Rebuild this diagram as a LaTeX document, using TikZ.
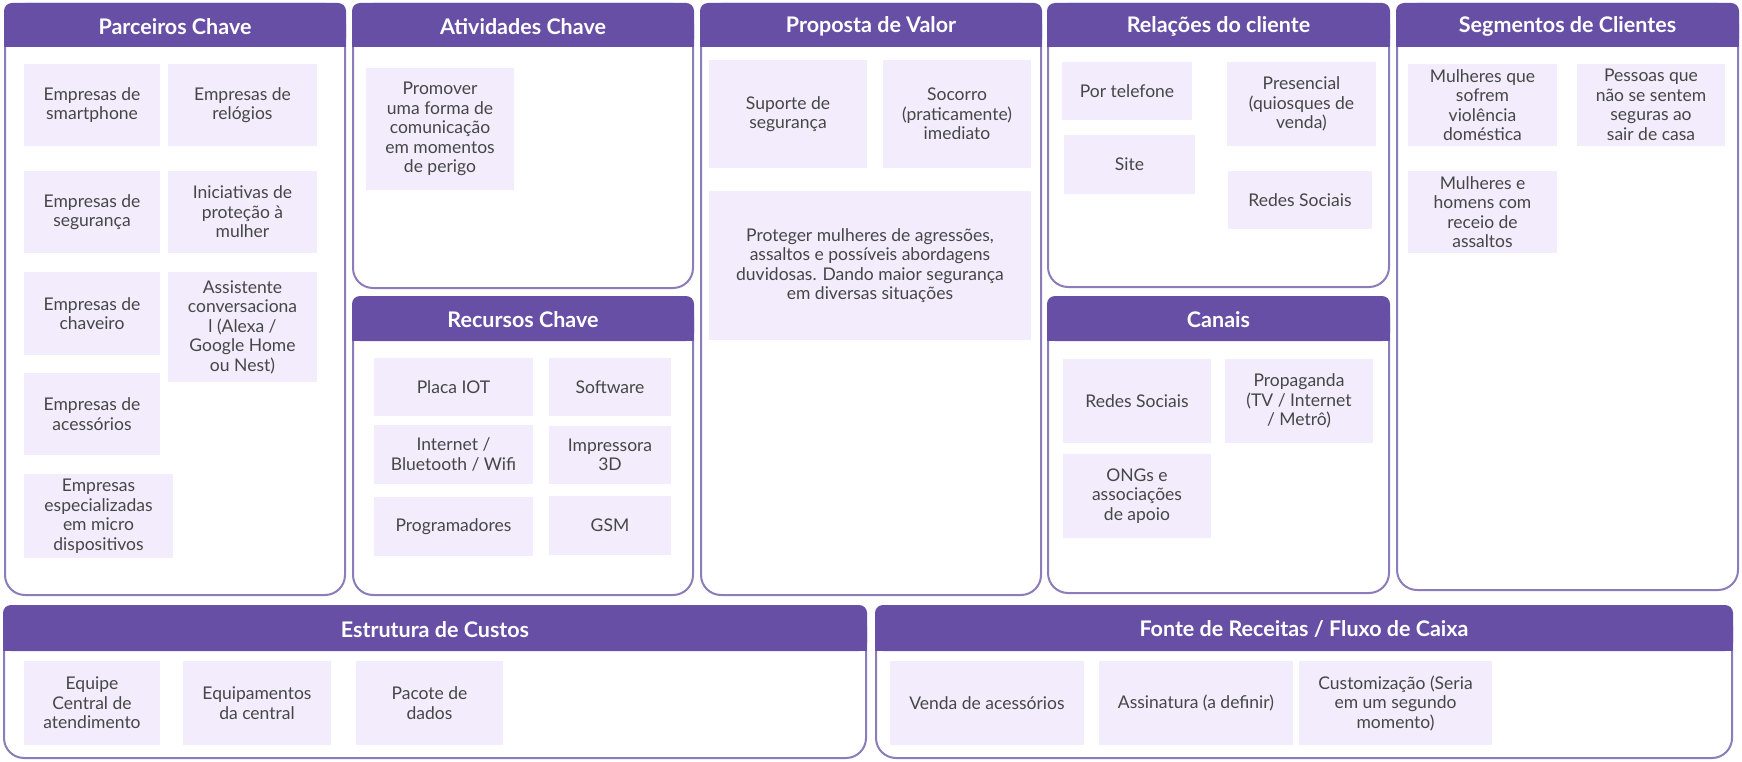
\documentclass[tikz,border=0pt]{standalone}
\usepackage{fontspec}
\setmainfont{Lato}
\definecolor{hdr}{RGB}{103,79,165}
\definecolor{edgec}{RGB}{140,124,186}
\definecolor{cardc}{RGB}{243,236,253}
\definecolor{txt}{RGB}{70,70,70}
\tikzset{
  panelline/.style={draw=edgec, line width=2pt, rounded corners=20pt},
  cardbox/.style={fill=cardc, draw=none, inner sep=0pt, align=center, text=txt,
    font=\fontsize{17.5}{19.5}\selectfont},
  titletext/.style={text=white, inner sep=0pt, font=\fontsize{21.5}{24}\selectfont\bfseries}
}
\newcommand\cpanel[7]{% name, x1, y1, x2, y2, header bottom, title
  \draw[panelline] (#2,#3) rectangle (#4,#5);
  \fill[hdr, rounded corners=8pt] (#2-1,#3-1) rectangle (#4+1,#6);
  \fill[hdr] (#2-1,#6-14) rectangle (#4+1,#6);
  \node[titletext] (#1) at ({(#2+#4)/2},{(#3+#6)/2+1}) {#7};
}
\newcommand\ccard[6]{% name, x1, y1, x2, y2, text
  \node[cardbox, minimum width={(#4-#2)*1pt}, minimum height={(#5-#3)*1pt}]
    (#1) at ({(#2+#4)/2},{(#3+#5)/2}) {#6};
}
\begin{document}
\begin{tikzpicture}[x=1pt, y=-1pt]
\useasboundingbox (0,0) rectangle (1742,762);
\fill[white] (0,0) rectangle (1742,762);

% panels
\cpanel{tParc}{5}{4}{345}{595}{47}{Parceiros Chave}
\cpanel{tAtiv}{353}{4}{693}{288}{47}{Atividades Chave}
\cpanel{tRec}{353}{297}{693}{595}{341}{Recursos Chave}
\cpanel{tProp}{701}{4}{1041}{595}{47}{Proposta de Valor}
\cpanel{tRel}{1048}{4}{1389}{287}{47}{Relações do cliente}
\cpanel{tCan}{1048}{297}{1389}{593}{341}{Canais}
\cpanel{tSeg}{1397}{4}{1738}{590}{47}{Segmentos de Clientes}
\cpanel{tCus}{4}{606}{866}{758}{651}{Estrutura de Custos}
\cpanel{tFon}{876}{606}{1732}{758}{651}{Fonte de Receitas / Fluxo de Caixa}

% Parceiros Chave
\ccard{p1}{24}{64}{160}{146}{Empresas de\\smartphone}
\ccard{p2}{168}{64}{317}{146}{Empresas de\\relógios}
\ccard{p3}{24}{171}{160}{253}{Empresas de\\segurança}
\ccard{p4}{168}{171}{317}{253}{Iniciativas de\\proteção à\\mulher}
\ccard{p5}{24}{272}{160}{355}{Empresas de\\chaveiro}
\ccard{p6}{168}{272}{317}{382}{Assistente\\conversaciona\\l (Alexa /\\Google Home\\ou Nest)}
\ccard{p7}{24}{373}{160}{455}{Empresas de\\acessórios}
\ccard{p8}{24}{474}{173}{558}{Empresas\\especializadas\\em micro\\dispositivos}

% Atividades Chave
\ccard{a1}{366}{68}{514}{190}{Promover\\uma forma de\\comunicação\\em momentos\\de perigo}

% Recursos Chave
\ccard{r1}{374}{358}{533}{416}{Placa IOT}
\ccard{r2}{549}{358}{671}{416}{Software}
\ccard{r3}{374}{425}{533}{484}{Internet /\\Bluetooth / Wifi}
\ccard{r4}{549}{426}{671}{484}{Impressora\\3D}
\ccard{r5}{374}{497}{533}{556}{Programadores}
\ccard{r6}{549}{496}{671}{555}{GSM}

% Proposta de Valor
\ccard{v1}{709}{60}{867}{168}{Suporte de\\segurança}
\ccard{v2}{883}{60}{1031}{168}{Socorro\\(praticamente)\\imediato}
\ccard{v3}{709}{191}{1031}{340}{Proteger mulheres de agressões,\\assaltos e possíveis abordagens\\duvidosas. Dando maior segurança\\em diversas situações}

% Relacoes do cliente
\ccard{c1}{1062}{62}{1192}{120}{Por telefone}
\ccard{c2}{1227}{62}{1376}{146}{Presencial\\(quiosques de\\venda)}
\ccard{c3}{1064}{135}{1195}{194}{Site}
\ccard{c4}{1228}{171}{1372}{229}{Redes Sociais}

% Canais
\ccard{h1}{1063}{359}{1211}{443}{Redes Sociais}
\ccard{h2}{1225}{359}{1373}{443}{Propaganda\\(TV / Internet\\/ Metrô)}
\ccard{h3}{1063}{454}{1211}{538}{ONGs e\\associações\\de apoio}

% Segmentos de Clientes
\ccard{s1}{1408}{64}{1557}{146}{Mulheres que\\sofrem\\violência\\doméstica}
\ccard{s2}{1577}{64}{1725}{146}{Pessoas que\\não se sentem\\seguras ao\\sair de casa}
\ccard{s3}{1408}{171}{1557}{253}{Mulheres e\\homens com\\receio de\\assaltos}

% Estrutura de Custos
\ccard{k1}{24}{661}{160}{745}{Equipe\\Central de\\atendimento}
\ccard{k2}{183}{661}{331}{745}{Equipamentos\\da central}
\ccard{k3}{356}{661}{503}{745}{Pacote de\\dados}

% Fonte de Receitas
\ccard{f1}{890}{661}{1084}{745}{Venda de acessórios}
\ccard{f2}{1099}{661}{1293}{745}{Assinatura (a definir)}
\ccard{f3}{1299}{661}{1492}{745}{Customização (Seria\\em um segundo\\momento)}
\end{tikzpicture}
\end{document}
